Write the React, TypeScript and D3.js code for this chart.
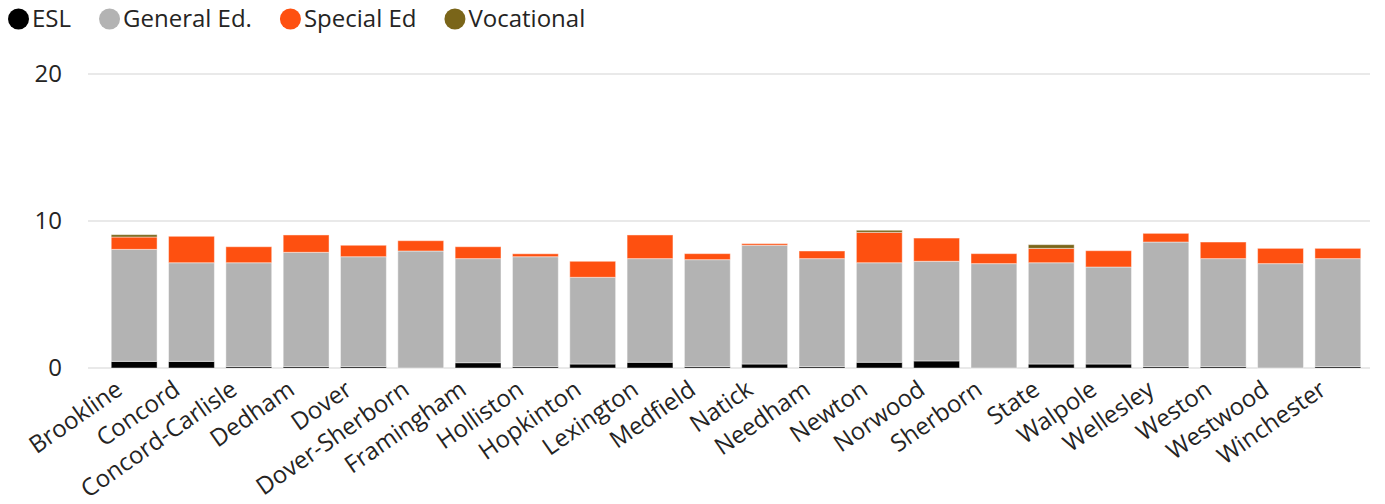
import React, { useEffect, useRef } from 'react';
import * as d3 from 'd3';

const districts = [
  'Brookline', 'Concord', 'Concord-Carlisle', 'Dedham', 'Dover', 'Dover-Sherborn',
  'Framingham', 'Holliston', 'Hopkinton', 'Lexington', 'Medfield', 'Natick',
  'Needham', 'Newton', 'Norwood', 'Sherborn', 'State', 'Walpole', 'Wellesley',
  'Weston', 'Westwood', 'Winchester',
];

const esl = [0.45, 0.45, 0.1, 0.1, 0.1, 0, 0.36, 0.1, 0.27, 0.39, 0.1, 0.27, 0.1, 0.39, 0.48, 0, 0.27, 0.27, 0.1, 0.1, 0, 0.1];
const generalEd = [7.62, 6.71, 7.06, 7.77, 7.47, 7.96, 7.08, 7.47, 5.9, 7.05, 7.27, 8.08, 7.34, 6.77, 6.78, 7.1, 6.89, 6.6, 8.47, 7.34, 7.1, 7.34];
const specialEd = [0.84, 1.8, 1.09, 1.18, 0.78, 0.7, 0.81, 0.2, 1.09, 1.61, 0.41, 0.11, 0.52, 2.07, 1.58, 0.68, 0.98, 1.11, 0.59, 1.13, 1.04, 0.7];
const vocational = [0.16, 0, 0, 0, 0, 0, 0, 0, 0, 0, 0, 0, 0, 0.14, 0, 0, 0.25, 0, 0, 0, 0, 0];

const seriesNames = ['ESL', 'General Ed.', 'Special Ed', 'Vocational'];
const seriesColors = ['#000000', '#b3b3b3', '#fe5010', '#7a6519'];
const yTicks = [0, 10, 20];

const W = 1385;
const H = 504;
const FONT = '"Open Sans", "Noto Sans", sans-serif';

const App = () => {
  const svgRef = useRef<SVGSVGElement>(null);

  useEffect(() => {
    const svg = d3.select(svgRef.current);
    svg.selectAll('*').remove();

    const rows = districts.map((d, i) => ({
      district: d,
      'ESL': esl[i],
      'General Ed.': generalEd[i],
      'Special Ed': specialEd[i],
      'Vocational': vocational[i],
    }));

    const stack = d3.stack<any>().keys(seriesNames);
    const layers = stack(rows);

    const x = d3.scaleBand()
      .domain(districts)
      .range([105.5, 1366.5])
      .paddingInner(0.2)
      .paddingOuter(0.1);

    const y = d3.scaleLinear().domain([0, 20]).range([368, 74]);

    const color = d3.scaleOrdinal<string>().domain(seriesNames).range(seriesColors);

    // gridlines
    svg.append('g')
      .selectAll('line')
      .data(yTicks)
      .enter().append('line')
      .attr('x1', 88)
      .attr('x2', 1370)
      .attr('y1', d => y(d))
      .attr('y2', d => y(d))
      .attr('stroke', '#e9e9e9')
      .attr('stroke-width', 2);

    // y tick labels
    svg.append('g')
      .selectAll('text')
      .data(yTicks)
      .enter().append('text')
      .attr('x', 62)
      .attr('y', d => y(d))
      .attr('dy', '0.35em')
      .attr('text-anchor', 'end')
      .attr('font-family', FONT)
      .attr('font-size', 24)
      .attr('fill', '#252423')
      .text(d => d);

    // bars
    svg.append('g')
      .selectAll('g')
      .data(layers)
      .enter().append('g')
      .attr('fill', d => color(d.key))
      .selectAll('rect')
      .data(d => d.filter(s => s[1] - s[0] > 0))
      .enter().append('rect')
      .attr('x', d => x(d.data.district)!)
      .attr('width', x.bandwidth())
      .attr('y', d => y(d[1]))
      .attr('height', d => y(d[0]) - y(d[1]))
      .attr('stroke', '#ffffff')
      .attr('stroke-opacity', 0.45)
      .attr('stroke-width', 1);

    // x labels
    svg.append('g')
      .selectAll('text')
      .data(districts)
      .enter().append('text')
      .attr('transform', d => `translate(${x(d)! + x.bandwidth() / 2 - 10},${393}) rotate(-35)`)
      .attr('text-anchor', 'end')
      .attr('font-family', FONT)
      .attr('font-size', 24)
      .attr('fill', '#252423')
      .text(d => d);

    // legend
    const legend = svg.append('g');
    let lx = 8;
    seriesNames.forEach((name, i) => {
      const item = legend.append('g').attr('transform', `translate(${lx},0)`);
      item.append('circle')
        .attr('cx', 10.5)
        .attr('cy', 19)
        .attr('r', 10.5)
        .attr('fill', seriesColors[i]);
      const t = item.append('text')
        .attr('x', 24)
        .attr('y', 19)
        .attr('dy', '0.35em')
        .attr('font-family', FONT)
        .attr('font-size', 24)
        .attr('fill', '#252423')
        .text(name);
      const len = (t.node() as SVGTextElement).getComputedTextLength();
      lx += 24 + len + 28;
    });
  }, []);

  return (
    <svg ref={svgRef} width={W} height={H} style={{ display: 'block', margin: -8 }}></svg>
  );
};

export default App;
